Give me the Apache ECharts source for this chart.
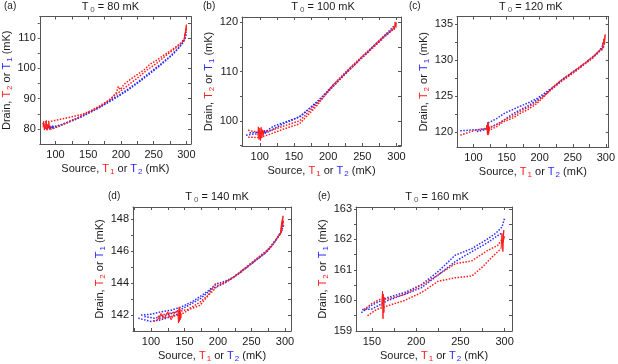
<!DOCTYPE html>
<html>
<head>
<meta charset="utf-8">
<script src="https://cdn.jsdelivr.net/npm/echarts@6/dist/echarts.min.js"></script>
<style>
  html, body { margin: 0; padding: 0; background: #fff; }
  #chart { width: 618px; height: 364px; }
</style>
</head>
<body>
<div id="chart"></div>
<script>
// ---- data (mK) ----
const panelLabels = ['(a)', '(b)', '(c)', '(d)', '(e)'];
const bathTemps = [80, 100, 120, 140, 160];

const xTicksAD = [100, 150, 200, 250, 300];
const xTicksE = [150, 200, 250, 300];
const yTicksA = [80, 90, 100, 110];
const yTicksB = [100, 110, 120];
const yTicksC = [120, 125, 130, 135];
const yTicksD = [142, 144, 146, 148];
const yTicksE = [159, 160, 161, 162, 163];

// (a) T0 = 80 mK
const redA1 = [[84,82.3],[95,82.6],[110,83.3],[125,84],[140,84.8],[155,86],[170,87.6],[185,90],[193,92],[196,94],[199,93],[205,94.8],[215,96.5],[225,98],[235,99.5],[245,101.5],[255,102.8],[265,104.3],[275,105.8],[285,107.3],[292,108.5],[297,110]];
const redA2 = [[92,79.8],[105,80.8],[120,82.3],[135,83.8],[150,85.5],[165,87.3],[180,89.3],[195,91.8],[210,94.3],[225,96.8],[240,99.5],[255,101.8],[270,104.5],[285,107],[295,109]];
const blueA1 = [[86,80],[96,80.6],[110,81.5],[125,82.8],[140,84.2],[155,85.8],[170,87.6],[185,89.6],[200,91.6],[215,93.8],[230,96.2],[245,98.8],[260,101.3],[275,104],[288,106.8],[295,108.6],[299,110.5],[300,112]];
const blueA2 = [[95,80.3],[115,81.8],[135,83.5],[160,86.2],[185,89.3],[210,92.7],[235,96.7],[260,101],[280,104.8],[293,108],[298,110]];
const redClusterA = [[81,80.5],[82,82.5],[83,79.6],[84,81.8],[85,80.2],[86,82.8],[87,79.5],[88,81.5],[89,80.3],[90,82.2],[91,79.8],[92,81],[84,80],[82,81.2],[80,82]];
const blueClusterA = [[88,79.8],[90,81],[92,80],[93,80.9],[95,80.2],[96,81.1],[97,80.4]];
const redSpikeA = [[296,109],[298,111.5],[297,110],[299,113],[298,111],[300,114.5],[299,112],[300,113.5]];

// (b) T0 = 100 mK
const redB1 = [[83,98.1],[100,97.6],[115,98.0],[134,98.9],[158,100.0],[183,103.4],[207,107.0],[232,110.5],[256,113.6],[280,116.7],[296,118.8]];
const redB2 = [[83,96.7],[100,96.6],[115,97.3],[134,98.3],[158,99.4],[183,103.0],[207,107.3],[232,110.8],[256,113.9],[280,117.0],[294,118.6]];
const blueB1 = [[80,97.1],[95,97.4],[108,97.8],[120,98.9],[134,99.6],[158,100.8],[183,103.8],[207,107.2],[232,110.6],[256,113.7],[280,116.9],[300,119.1]];
const blueB2 = [[85,97.6],[100,97.7],[110,97.6],[130,99.1],[160,101],[190,104.5],[220,108.8],[250,113],[275,116.3],[298,119.5]];
const redClusterB = [[97,97],[98,98.8],[99,96.2],[100,98.5],[101,96],[102,98.7],[103,96.5],[104,98.2],[105,97],[106,98],[100,97.3],[98,96.5]];
const blueClusterB = [[100,97.2],[103,98],[105,97.5],[107,98.1],[108,97.4],[110,97.8]];
const redSpikeB = [[294,118.3],[296,119.2],[297,118.5],[298,120.1],[299,119],[300,120]];

// (c) T0 = 120 mK
const redC1 = [[80,119.6],[90,119.9],[100,120.2],[110,120.4],[120,120.6]];
const redC2 = [[122,120.5],[135,121.1],[146,121.7],[160,122.3],[170,122.9],[183,123.5],[195,124.2],[207,125.1],[220,126.1],[232,127],[244,127.8],[256,128.6],[268,129.5],[280,130.3],[290,131.2],[296,131.8]];
const redC3 = [[122,120.2],[135,120.8],[146,121.5],[160,122.0],[170,122.6],[183,123.2],[195,123.95],[207,125],[220,126.3],[232,127.2],[244,128],[256,128.8],[268,129.6],[280,130.5],[292,131.5]];
const blueC1 = [[80,120.2],[95,120.3],[110,120.4],[122,120.5]];
const blueC2 = [[122,121.3],[135,121.9],[146,122.6],[160,123.2],[170,123.6],[183,124.1],[195,124.65],[207,125.4],[220,126.25],[232,127.1],[244,127.9],[256,128.7],[268,129.5],[280,130.4],[290,131.3],[297,132.3]];
const blueC3 = [[105,120.1],[115,120.3],[125,120.7],[140,121.3],[160,122.6],[185,123.8],[210,125.4],[235,127.4],[260,129],[285,130.8],[298,132]];
const redClusterC = [[119,120.3],[120,121],[121,119.7],[121.5,121.4],[122,119.6],[122.5,121.2],[123,119.8],[123.5,120.8],[124,120.2]];
const redSpikeC = [[294,131.3],[296,132.5],[295,131.8],[297,133],[298,132.2],[299,133.6],[298,132.8]];

// (d) T0 = 140 mK
const blueD1 = [[81,141.8],[90,141.7],[100,141.6],[115,141.7],[130,141.9],[143,142.1]];
const blueD2 = [[85,142.0],[100,142.05],[115,142.2],[130,142.3],[145,142.5],[160,142.8],[173,143.15],[185,143.5],[198,143.95],[210,144.1],[223,144.35],[235,144.75],[248,145.15],[260,145.55],[273,145.95],[282,146.4],[288,146.8],[294,147.2],[298,147.6]];
const blueD3 = [[90,141.9],[105,141.8],[125,142.0],[143,142.3],[160,142.7],[173,143.0],[190,143.6],[210,144.0],[230,144.55],[250,145.2],[270,145.85],[285,146.6],[296,147.3]];
const redD1 = [[104,141.6],[115,141.8],[130,141.9],[143,142.0],[160,142.4],[173,142.6],[185,143.2],[195,143.9],[198,144.0],[205,143.9],[223,144.35],[248,145.2],[273,146.0],[288,146.8],[296,147.3]];
const redD2 = [[110,141.9],[125,142.1],[140,142.2],[155,142.35],[173,142.8],[190,143.4],[200,143.85],[215,144.15],[235,144.7],[260,145.6],[280,146.3],[292,147.0]];
const redClusterD = [[110,141.7],[115,142.1],[120,141.8],[125,142.2],[130,141.7],[135,142.1],[140,142.3],[141,141.5],[142,142.5],[142.5,141.6],[143,142.4],[143.5,141.7],[144,142.2],[144.5,141.8],[145,142.1]];
const redSpikeD = [[293,147],[295,147.8],[294,147.2],[296,148],[295,147.4],[297,148.2],[296,147.5],[298,147.9]];

// (e) T0 = 160 mK
const blueE1 = [[138,159.6],[150,159.85],[168,160.1],[187,160.26],[206,160.52],[225,160.95],[244,161.48],[263,161.7],[281,162.02],[290,162.2],[297,162.4],[300,162.7]];
const blueE2 = [[139,159.7],[150,159.72],[168,160.0],[187,160.2],[206,160.42],[225,160.84],[244,161.27],[263,161.6],[281,161.9],[296,162.2]];
const redE1 = [[141,159.7],[150,159.9],[160,160.05],[168,160.05],[187,160.2],[206,160.5],[225,160.84],[244,161.2],[263,161.3],[281,161.64],[292,161.8],[297,162]];
const redE2 = [[145,159.5],[155,159.7],[165,159.8],[187,160.0],[206,160.26],[225,160.63],[244,160.74],[263,160.8],[275,161.1],[285,161.4],[296,161.7]];
const redSpikeE1 = [[161,159.8],[162,160.3],[162.5,159.4],[163,160.2],[163.5,159.6],[164,160.1],[163,159.9]];
const redSpikeE2 = [[296,161.7],[297,162.2],[298,161.6],[299,162.3],[298,161.9],[300,162.1]];

// ---- layout ----
const RED = '#ff1a1a';
const BLUE = '#2a2aff';
const FONT = 'Liberation Sans, Arial, sans-serif';

// box = [left, top, width, height]; titlePad shifts the title off the box centre
const panels = [
  { box: [33, 16, 158, 128], x: [76, 307], y: [75, 117.2], xt: xTicksAD, yt: yTicksA,
    titlePad: [0, 10, 0, 0], tag: [4, 6],
    red: [redA1, redA2], blue: [blueA1, blueA2], redSolid: [redClusterA, redSpikeA], blueSolid: [blueClusterA] },
  { box: [242, 17, 159, 129], x: [74, 306.6], y: [94.9, 121.1], xt: xTicksAD, yt: yTicksB,
    titlePad: [0, 0, 0, 3], tag: [203, 6],
    red: [redB1, redB2], blue: [blueB1, blueB2], redSolid: [redClusterB, redSpikeB], blueSolid: [blueClusterB] },
  { box: [457, 16, 156, 131], x: [75, 304.4], y: [117.95, 136.1], xt: xTicksAD, yt: yTicksC,
    titlePad: [0, 4, 0, 0], tag: [409, 6],
    red: [redC1, redC2, redC3], blue: [blueC1, blueC2, blueC3], redSolid: [redClusterC, redSpikeC], blueSolid: [] },
  { box: [133, 207, 158, 127], x: [73.1, 308.9], y: [141, 148.75], xt: xTicksAD, yt: yTicksD,
    titlePad: [0, 0, 0, 10], tag: [108, 196],
    red: [redD1, redD2], blue: [blueD1, blueD2, blueD3], redSolid: [redClusterD, redSpikeD], blueSolid: [] },
  { box: [356, 207, 156, 127], x: [132, 308.3], y: [159, 163.06], xt: xTicksE, yt: yTicksE,
    titlePad: [0, 0, 0, 6], tag: [318, 196],
    red: [redE1, redE2], blue: [blueE1, blueE2], redSolid: [redSpikeE1, redSpikeE2], blueSolid: [] }
];

function withMinor(ticks, lo, hi) {
  const step = ticks[1] - ticks[0];
  const out = [];
  ticks.forEach(t => { out.push(t - step / 2, t, t + step / 2); });
  return out.filter((v, i, a) => v > lo && v < hi && a.indexOf(v) === i);
}

const nameRich = {
  n: { fontSize: 11, lineHeight: 14, color: '#1a1a1a', fontFamily: FONT },
  r: { fontSize: 11, lineHeight: 14, color: RED, fontFamily: FONT },
  rs: { fontSize: 8, lineHeight: 8, color: RED, verticalAlign: 'bottom', padding: [0, 0, 0, 1], fontFamily: FONT },
  b: { fontSize: 11, lineHeight: 14, color: BLUE, fontFamily: FONT },
  bs: { fontSize: 8, lineHeight: 8, color: BLUE, verticalAlign: 'bottom', padding: [0, 0, 0, 1], fontFamily: FONT },
  g: { fontSize: 8, lineHeight: 8, color: '#555', verticalAlign: 'bottom', padding: [0, 0, 0, 2], fontFamily: FONT }
};

const grids = [], xAxes = [], yAxes = [], series = [], graphics = [];
const lineColor = '#555';

panels.forEach((p, i) => {
  const [l, t, w, h] = p.box;
  grids.push({ left: l, top: t, width: w, height: h });
  const xMinor = withMinor(p.xt, p.x[0], p.x[1]);
  const yMinor = withMinor(p.yt, p.y[0], p.y[1]);
  const common = { type: 'value', gridIndex: i, splitLine: { show: false },
    axisLine: { show: true, onZero: false, lineStyle: { color: lineColor, width: 1 } } };
  xAxes.push(Object.assign({}, common, {
    position: 'bottom', min: p.x[0], max: p.x[1],
    axisTick: { show: true, inside: true, length: 3, customValues: xMinor, lineStyle: { color: lineColor } },
    axisLabel: { customValues: p.xt, fontSize: 11, color: '#1a1a1a', margin: 5, fontFamily: FONT },
    name: '{n|Source, }{r|T}{rs|1}{n| or }{b|T}{bs|2}{n| (mK)}',
    nameLocation: 'middle', nameGap: 18,
    nameTextStyle: { rich: nameRich }
  }));
  // top axis mirrors the ticks and carries the panel title
  xAxes.push(Object.assign({}, common, {
    position: 'top', min: p.x[0], max: p.x[1],
    axisTick: { show: true, inside: true, length: 3, customValues: xMinor, lineStyle: { color: lineColor } },
    axisLabel: { show: false },
    name: '{n|T}{g|0}{n| = ' + bathTemps[i] + ' mK}',
    nameLocation: 'middle', nameGap: 3,
    nameTextStyle: { rich: nameRich, padding: p.titlePad }
  }));
  yAxes.push(Object.assign({}, common, {
    position: 'left', min: p.y[0], max: p.y[1],
    axisTick: { show: true, inside: false, length: 2, customValues: yMinor, lineStyle: { color: lineColor } },
    axisLabel: { customValues: p.yt, fontSize: 11, color: '#1a1a1a', margin: 4, fontFamily: FONT },
    name: '{n|Drain, }{r|T}{rs|2}{n| or }{b|T}{bs|1}{n| (mK)}',
    nameLocation: 'middle', nameGap: 21, nameRotate: 90,
    nameTextStyle: { rich: nameRich }
  }));
  yAxes.push(Object.assign({}, common, {
    position: 'right', min: p.y[0], max: p.y[1],
    axisTick: { show: true, inside: true, length: 3, customValues: yMinor, lineStyle: { color: lineColor } },
    axisLabel: { show: false }
  }));

  const addLines = (list, color, dotted) => list.forEach(d => series.push({
    type: 'line', xAxisIndex: 2 * i, yAxisIndex: 2 * i, data: d,
    showSymbol: false, symbol: 'none', animation: false, silent: true,
    lineStyle: { color: color, width: dotted ? 1.5 : 1, type: dotted ? [1.5, 1.5] : 'solid' }
  }));
  addLines(p.blue, BLUE, true);
  addLines(p.blueSolid, BLUE, false);
  addLines(p.red, RED, true);
  addLines(p.redSolid, RED, false);

  graphics.push({
    type: 'text', x: p.tag[0], y: p.tag[1],
    style: { text: panelLabels[i], fontSize: 10, fill: '#1a1a1a', fontFamily: FONT,
      align: 'left', verticalAlign: 'middle' }
  });
});

const chart = echarts.init(document.getElementById('chart'), null, { renderer: 'canvas' });
chart.setOption({
  backgroundColor: '#fff',
  animation: false,
  grid: grids,
  xAxis: xAxes,
  yAxis: yAxes,
  series: series,
  graphic: graphics
});
</script>
</body>
</html>
